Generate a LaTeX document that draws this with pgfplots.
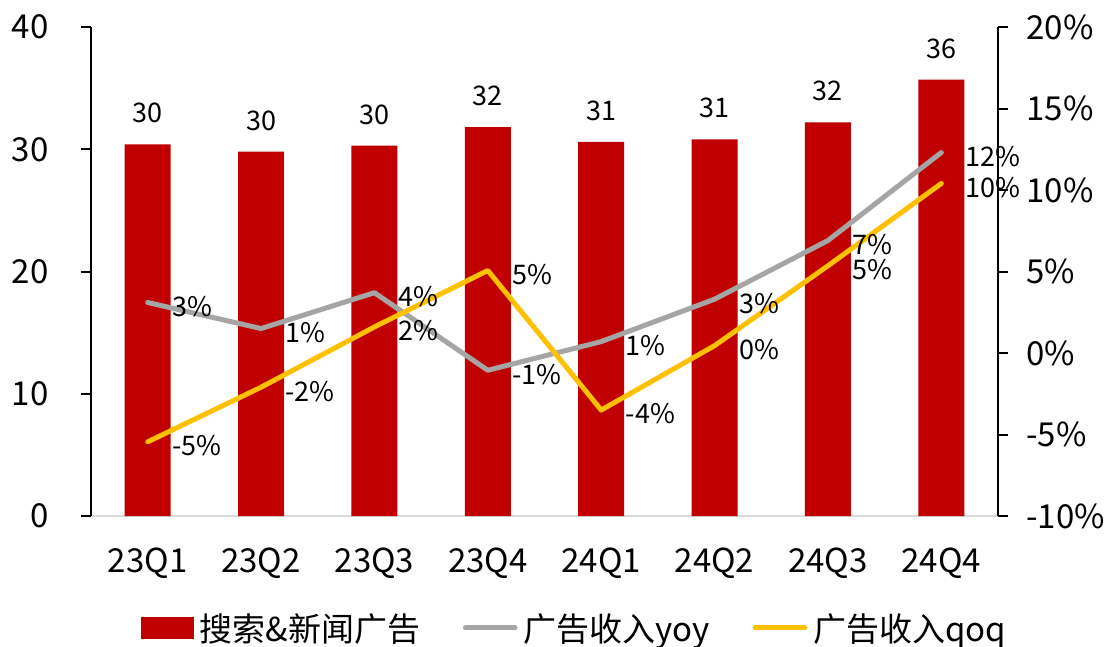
\documentclass[border=0pt]{standalone}
\usepackage{fontspec}
\setmainfont{Noto Sans CJK SC}
\usepackage{pgfplots}
\pgfplotsset{compat=1.18}
\usepackage{pgfplotstable}
\definecolor{barred}{HTML}{C00000}
\definecolor{lgray}{HTML}{A5A5A5}
\definecolor{lyel}{HTML}{FFC000}
\definecolor{axgray}{HTML}{D9D9D9}

\pgfplotstableread{
x bar barl yoy yoyl qoq qoql
0 30.4 30 3.1 3 -5.45 -5
1 29.8 30 1.5 1 -2.1 -2
2 30.3 30 3.7 4 1.6 2
3 31.8 32 -1.06 -1 5.06 5
4 30.6 31 0.7 1 -3.5 -4
5 30.8 31 3.3 3 0.45 0
6 32.2 32 6.9 7 5.35 5
7 35.7 36 12.3 12 10.4 10
}\data

\begin{document}
\begin{tikzpicture}
\begin{axis}[
  scale only axis, width=907pt, height=489pt,
  at={(0pt,0pt)}, anchor=south west,
  xmin=-0.5, xmax=7.5, ymin=0, ymax=40,
  axis x line*=bottom, axis y line*=left,
  x axis line style={draw=axgray, line width=2pt},
  y axis line style={draw=black, line width=2pt},
  xtick={0,...,7},
  xticklabels={23Q1,23Q2,23Q3,23Q4,24Q1,24Q2,24Q3,24Q4},
  major x tick style={draw=none},
  ytick={0,10,20,30,40},
  tick align=outside, major tick length=10pt,
  major y tick style={black, line width=2pt},
  tick label style={font=\fontsize{33}{40}\selectfont},
  /pgf/number format/assume math mode=true,
  xticklabel style={yshift=-18pt},
  yticklabel style={xshift=-29pt},
]
\addplot[ybar, bar width=46pt, fill=barred, draw=none,
  nodes near coords, point meta=explicit symbolic,
  nodes near coords style={font=\fontsize{27}{32}\selectfont, black, inner sep=0pt, yshift=21pt}]
  table[x=x, y=bar, meta=barl]{\data};
\end{axis}
\begin{axis}[
  scale only axis, width=907pt, height=489pt,
  at={(0pt,0pt)}, anchor=south west,
  xmin=-0.5, xmax=7.5, ymin=-10, ymax=20,
  axis y line*=right, axis x line=none,
  y axis line style={draw=black, line width=2pt},
  ytick={-10,-5,...,20},
  yticklabels={-10\%,-5\%,0\%,5\%,10\%,15\%,20\%},
  tick align=outside, major tick length=10pt,
  major y tick style={black, line width=2pt},
  tick label style={font=\fontsize{33}{40}\selectfont},
  yticklabel style={xshift=15pt},
  clip=false,
  legend columns=3,
  legend style={draw=none, fill=none, at={(0.0518,-0.229)}, anchor=west,
    font=\fontsize{33}{38}\selectfont,
    nodes={inner sep=1pt},
    /tikz/every odd column/.append style={column sep=5pt},
    /tikz/every even column/.append style={column sep=42pt}},
]
\addlegendimage{legend image code/.code={\fill[barred] (0pt,-10.5pt) rectangle (52pt,10.5pt);}}
\addlegendentry{搜索\&新闻广告}
\addlegendimage{legend image code/.code={\draw[lgray, line width=5pt, line cap=round] (2.5pt,0pt) -- (52pt,0pt);}}
\addlegendentry{广告收入yoy}
\addlegendimage{legend image code/.code={\draw[lyel, line width=5pt, line cap=round] (2.5pt,0pt) -- (52pt,0pt);}}
\addlegendentry{广告收入qoq}
\addplot[forget plot, lgray, line width=5pt, line join=round, line cap=round,
  nodes near coords={\pgfplotspointmeta\%}, point meta=explicit symbolic,
  nodes near coords style={anchor=west, font=\fontsize{27}{32}\selectfont, black, inner sep=0pt, xshift=22pt, yshift=-4pt}]
  table[x=x, y=yoy, meta=yoyl]{\data};
\addplot[forget plot, lyel, line width=5pt, line join=round, line cap=round,
  nodes near coords={\pgfplotspointmeta\%}, point meta=explicit symbolic,
  nodes near coords style={anchor=west, font=\fontsize{27}{32}\selectfont, black, inner sep=0pt, xshift=22pt, yshift=-4pt}]
  table[x=x, y=qoq, meta=qoql]{\data};
\end{axis}
\pgfresetboundingbox
\path[use as bounding box] (-91pt,-130pt) rectangle (1021pt,516pt);
\end{tikzpicture}
\end{document}
